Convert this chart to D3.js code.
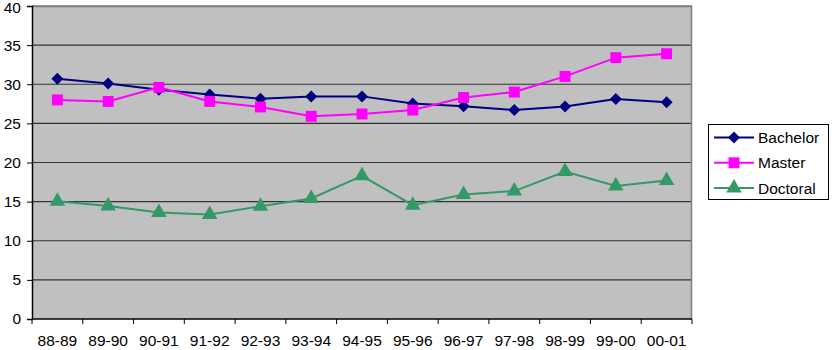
<!DOCTYPE html>
<html><head><meta charset="utf-8">
<script src="https://cdn.jsdelivr.net/npm/d3@7"></script>
<style>body{margin:0;background:#fff}svg{display:block}text{font-family:"Liberation Sans",Arial,sans-serif}</style>
</head><body><svg id="c" width="836" height="350"></svg>
<script>
const categories = ["88-89","89-90","90-91","91-92","92-93","93-94","94-95","95-96","96-97","97-98","98-99","99-00","00-01"];
const bachelor = [30.7,30.1,29.3,28.7,28.15,28.45,28.45,27.55,27.2,26.7,27.15,28.1,27.7];
const master   = [28.0,27.8,29.6,27.8,27.1,25.9,26.2,26.7,28.3,29.0,31.0,33.4,33.9];
const doctoral = [15.05,14.45,13.6,13.35,14.4,15.4,18.3,14.55,15.9,16.35,18.85,17.0,17.7];
const yTicks = [0,5,10,15,20,25,30,35,40];
const seriesNames = ["Bachelor","Master","Doctoral"];
const seriesColors = ["#000080","#FF00FF","#339966"];

const diamond = { draw(ctx, size){ const r=Math.sqrt(size/2); ctx.moveTo(0,-r); ctx.lineTo(r,0); ctx.lineTo(0,r); ctx.lineTo(-r,0); ctx.closePath(); } };
const seriesSymbols = [diamond, d3.symbolSquare, d3.symbolTriangle];

const svg = d3.select("#c");
const L=32, R=692, T=6, B=319;
const x = d3.scaleBand().domain(categories).range([L,R]);
const y = d3.scaleLinear().domain([0,40]).range([B,T]);

svg.append("rect").attr("x",L).attr("y",T).attr("width",R-L).attr("height",B-T).attr("fill","#C0C0C0");
svg.append("g").selectAll("line").data(yTicks.filter(d=>d>0)).join("line")
  .attr("x1",L).attr("x2",R).attr("y1",d=>y(d)).attr("y2",d=>y(d))
  .attr("stroke","#333").attr("stroke-width",1.2);
svg.append("path").attr("d",`M${L},${T+0.5}H${R-0.5}V${B}`).attr("fill","none").attr("stroke","#808080").attr("stroke-width",1.5);

const fs = "15.5px";
const ya = svg.append("g").attr("transform",`translate(${L},0)`)
  .call(d3.axisLeft(y).tickValues(yTicks).tickSize(5).tickPadding(6));
ya.select(".domain").attr("stroke","#000").attr("stroke-width",1.5);
ya.selectAll("line").attr("stroke","#000");
ya.selectAll("text").attr("font-size",fs).attr("fill","#000").attr("font-family","Liberation Sans, Arial, sans-serif")
  .attr("dy",(d)=> d===40 ? "0.4em" : "0.32em");

const xa = svg.append("g").attr("transform",`translate(0,${B})`);
xa.append("line").attr("x1",L).attr("x2",R).attr("stroke","#000").attr("stroke-width",1.5);
const bounds = d3.range(categories.length+1).map(i=>L+i*x.step());
xa.selectAll(".tk").data(bounds).join("line").attr("class","tk")
  .attr("x1",d=>d).attr("x2",d=>d).attr("y1",0).attr("y2",5).attr("stroke","#000");
xa.selectAll(".lb").data(categories).join("text").attr("class","lb")
  .attr("x",d=>x(d)+x.bandwidth()/2).attr("y",27).attr("text-anchor","middle")
  .attr("font-size",fs).attr("fill","#000").text(d=>d);

const allSeries = [bachelor, master, doctoral];
const line = d3.line().x((d,i)=>x(categories[i])+x.bandwidth()/2).y(d=>y(d));
const sizes = [72,120,105];
allSeries.forEach((vals,si)=>{
  const g = svg.append("g");
  g.append("path").datum(vals).attr("d",line).attr("fill","none")
    .attr("stroke",seriesColors[si]).attr("stroke-width",2);
  g.selectAll("path.m").data(vals).join("path").attr("class","m")
    .attr("transform",(d,i)=>`translate(${x(categories[i])+x.bandwidth()/2},${y(d)})`)
    .attr("d",d3.symbol().type(seriesSymbols[si]).size(sizes[si]))
    .attr("fill",seriesColors[si]);
});

const lg = svg.append("g");
lg.append("rect").attr("x",708.5).attr("y",124.5).attr("width",120).attr("height",75)
  .attr("fill","#fff").attr("stroke","#000").attr("stroke-width",1);
seriesNames.forEach((n,i)=>{
  const yy = 137.5 + i*25.3;
  lg.append("line").attr("x1",714).attr("x2",754).attr("y1",yy).attr("y2",yy)
    .attr("stroke",seriesColors[i]).attr("stroke-width",2);
  lg.append("path").attr("transform",`translate(734,${yy})`)
    .attr("d",d3.symbol().type(seriesSymbols[i]).size(sizes[i])).attr("fill",seriesColors[i]);
  lg.append("text").attr("x",758).attr("y",yy+5.5).attr("font-size",fs).attr("fill","#000").text(n);
});
</script></body></html>
